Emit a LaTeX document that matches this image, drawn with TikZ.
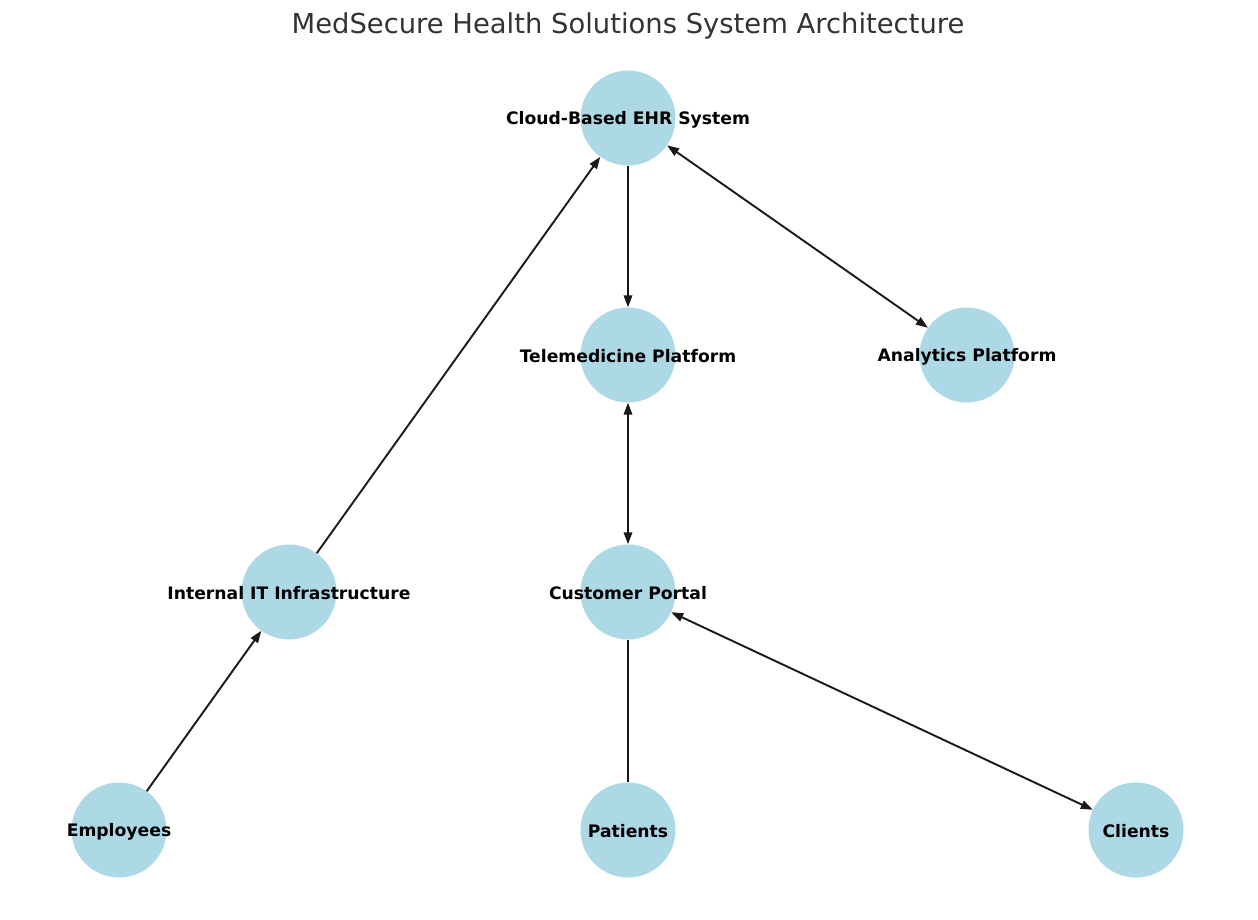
\documentclass[tikz,border=0pt]{standalone}
\usepackage{fontspec}
\setmainfont{DejaVu Sans}
\usetikzlibrary{arrows.meta}
\definecolor{nodeblue}{HTML}{ADD8E6}
\definecolor{titlegray}{HTML}{333333}
\tikzset{
  x=1pt, y=-1pt,
  ent/.style={circle, fill=nodeblue, minimum size=95pt, inner sep=0pt},
  lbl/.style={font=\fontsize{17.2pt}{19pt}\selectfont\bfseries, text=black, inner sep=0pt, yshift=-1.5pt},
  edge/.style={line width=1.9pt, draw=black!90},
  tip/.style={-{Triangle[length=12pt,width=8.5pt]}},
  tips/.style={{Triangle[length=12pt,width=8.5pt]}-{Triangle[length=12pt,width=8.5pt]}}
}
\begin{document}
\begin{tikzpicture}
\useasboundingbox (0,0) rectangle (1258,919);
\node[font=\fontsize{27.4pt}{30pt}\selectfont, text=titlegray] (title) at (628,26) {MedSecure Health Solutions System Architecture};
\node[ent] (cloud) at (628,118) {};
\node[ent] (tele) at (628,355) {};
\node[ent] (ana) at (967,355) {};
\node[ent] (it) at (289,592) {};
\node[ent] (cp) at (628,592) {};
\node[ent] (emp) at (119,830) {};
\node[ent] (pat) at (628,830) {};
\node[ent] (cli) at (1136,830) {};
\draw[edge,tip] (it) -- (cloud);
\draw[edge,tip] (cloud) -- (tele);
\draw[edge,tips] (cloud) -- (ana);
\draw[edge,tips] (tele) -- (cp);
\draw[edge,tip] (emp) -- (it);
\draw[edge] (cp) -- (pat);
\draw[edge,tips] (cp) -- (cli);
\node[lbl] (lcloud) at (cloud) {Cloud-Based EHR System};
\node[lbl] (ltele) at (tele) {Telemedicine Platform};
\node[lbl] (lana) at (ana) {Analytics Platform};
\node[lbl] (lit) at (it) {Internal IT Infrastructure};
\node[lbl] (lcp) at (cp) {Customer Portal};
\node[lbl] (lemp) at (emp) {Employees};
\node[lbl] (lpat) at (pat) {Patients};
\node[lbl] (lcli) at (cli) {Clients};
\end{tikzpicture}
\end{document}
